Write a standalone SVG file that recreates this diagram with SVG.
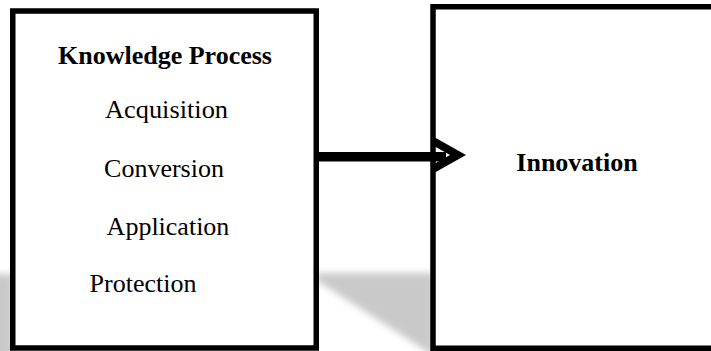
<svg xmlns="http://www.w3.org/2000/svg" width="711" height="351" viewBox="0 0 711 351">
  <defs>
    <filter id="blur" x="-20%" y="-20%" width="140%" height="140%">
      <feGaussianBlur stdDeviation="3.5"/>
    </filter>
  </defs>
  <style>
    .box { fill: #ffffff; stroke: #000000; stroke-width: 5.5; }
    .txt { font-family: "Liberation Serif", "Times New Roman", serif; font-size: 26px; fill: #000000; text-anchor: middle; }
    .bold { font-weight: bold; }
    .arrow { fill: #000000; }
  </style>
  <rect x="0" y="0" width="711" height="351" fill="#ffffff"/>
  <g id="shadow" filter="url(#blur)" fill="#c9c9c9">
    <polygon points="-10,274 14,274 14,360 -10,360"/>
    <polygon points="316,273 434,273 434,356 316,280"/>
    <polygon points="700,273 720,273 720,360 700,360"/>
  </g>
  <g id="node-knowledge-process">
    <rect class="box" x="12.75" y="11" width="303.5" height="337"/>
    <text class="txt bold" x="165" y="64">Knowledge Process</text>
    <text class="txt" x="166.5" y="118" textLength="123" lengthAdjust="spacingAndGlyphs">Acquisition</text>
    <text class="txt" x="164" y="177">Conversion</text>
    <text class="txt" x="168" y="235">Application</text>
    <text class="txt" x="143" y="292">Protection</text>
  </g>
  <g id="node-innovation">
    <rect class="box" x="433" y="6.75" width="300" height="341.5"/>
    <text class="txt bold" x="577" y="171">Innovation</text>
  </g>
  <g id="connectors">
    <rect class="arrow" x="318" y="152" width="128" height="9.5"/>
    <polygon class="arrow" points="434,137 466,155 434,173 434,164 450,155 434,146"/>
  </g>
</svg>
